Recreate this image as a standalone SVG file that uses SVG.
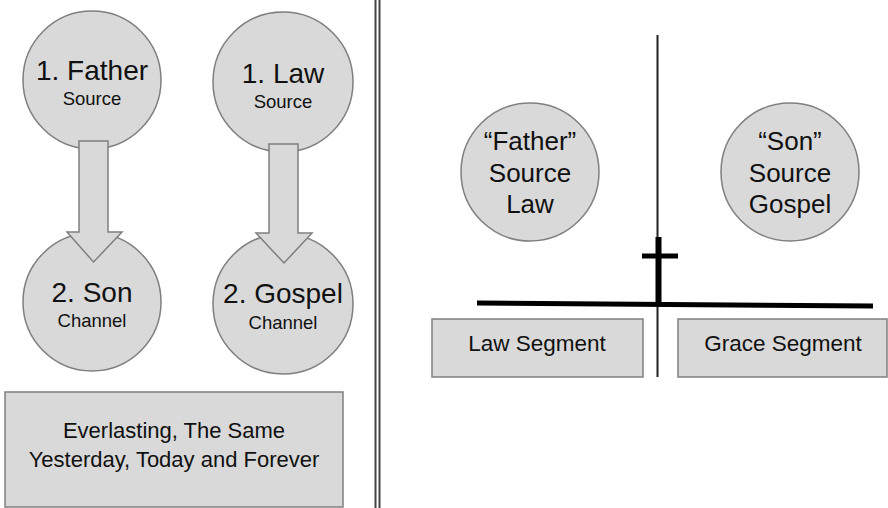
<svg xmlns="http://www.w3.org/2000/svg" width="888" height="508" viewBox="0 0 888 508">
<style>
.node{fill:#d9d9d9;stroke:#7f7f7f;stroke-width:1.5}
.arrow{fill:#d9d9d9;stroke:#7f7f7f;stroke-width:1.5}
text{font-family:"Liberation Sans",Arial,sans-serif;fill:#111;text-anchor:middle}
.big{font-size:28px}
.small{font-size:18.5px}
.mid{font-size:26px}
.box{font-size:22px}
.seg{font-size:22.5px}
</style>
<rect width="888" height="508" fill="#ffffff"/>
<g id="divider">
<line x1="375.5" y1="0" x2="375.5" y2="508" stroke="#444" stroke-width="2"/>
<line x1="379.5" y1="0" x2="379.5" y2="508" stroke="#444" stroke-width="2"/>
</g>
<g id="father">
<circle class="node" cx="92" cy="80" r="69"/>
<text class="big" x="92" y="80">1. Father</text>
<text class="small" x="92" y="105">Source</text>
</g>
<g id="law">
<circle class="node" cx="283" cy="82" r="70"/>
<text class="big" x="283" y="83">1. Law</text>
<text class="small" x="283" y="108">Source</text>
</g>
<g id="son">
<circle class="node" cx="92" cy="302" r="69"/>
<text class="big" x="92" y="302">2. Son</text>
<text class="small" x="92" y="327">Channel</text>
</g>
<g id="gospel">
<circle class="node" cx="283" cy="304" r="70"/>
<text class="big" x="283" y="303">2. Gospel</text>
<text class="small" x="283" y="329">Channel</text>
</g>
<g id="connectors">
<polygon class="arrow" points="79,141 108,141 108,232 122,232 93.5,262 67,232 79,232"/>
<polygon class="arrow" points="269,144 298,144 298,233 312,233 284,263 256,233 269,233"/>
</g>
<g id="everlasting">
<rect class="node" x="5" y="392" width="338" height="115"/>
<text class="box" x="174" y="438">Everlasting, The Same</text>
<text class="box" x="174" y="467">Yesterday, Today and Forever</text>
</g>
<g id="timeline">
<line x1="657.5" y1="35" x2="657.5" y2="377" stroke="#222" stroke-width="2"/>
<line x1="658.5" y1="237" x2="658.5" y2="305" stroke="#000" stroke-width="6"/>
<line x1="642" y1="256" x2="678" y2="256" stroke="#000" stroke-width="5"/>
<line x1="477" y1="303" x2="873" y2="306" stroke="#000" stroke-width="5"/>
</g>
<g id="father-law">
<circle class="node" cx="530" cy="172" r="69"/>
<text class="mid" x="530" y="150">“Father”</text>
<text class="mid" x="530" y="182">Source</text>
<text class="mid" x="530" y="213">Law</text>
</g>
<g id="son-gospel">
<circle class="node" cx="790" cy="172" r="69"/>
<text class="mid" x="790" y="150">“Son”</text>
<text class="mid" x="790" y="182">Source</text>
<text class="mid" x="790" y="213">Gospel</text>
</g>
<g id="law-segment">
<rect class="node" x="432" y="319" width="211" height="58"/>
<text class="seg" x="537" y="351">Law Segment</text>
</g>
<g id="grace-segment">
<rect class="node" x="678" y="319" width="209" height="58"/>
<text class="seg" x="783" y="351">Grace Segment</text>
</g>
</svg>
